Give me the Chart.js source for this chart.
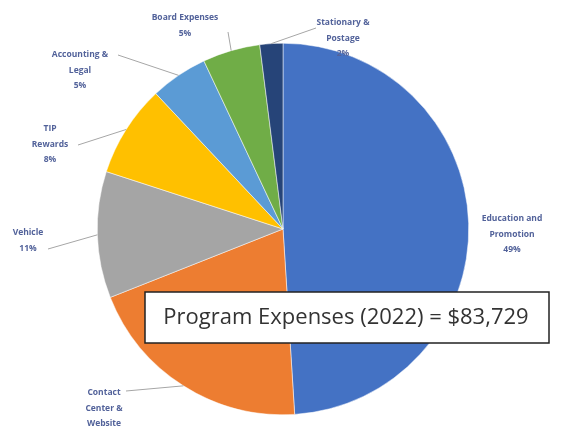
<!DOCTYPE html>
<html><head><meta charset="utf-8">
<script src="https://cdn.jsdelivr.net/npm/chart.js@4"></script>
<style>html,body{margin:0;padding:0;background:#fff;}#wrap{width:563px;height:434px;position:relative;}</style>
</head><body><div id="wrap"><canvas id="c" width="563" height="434"></canvas></div>
<script>
const categories = ["Education and Promotion", "Contact Center & Website", "Vehicle", "TIP Rewards", "Accounting & Legal", "Board Expenses", "Stationary & Postage"];
const labelLines = [["Education and","Promotion"],["Contact","Center &","Website"],["Vehicle"],["TIP","Rewards"],["Accounting &","Legal"],["Board Expenses"],["Stationary &","Postage"]];
const percentValues = [49, 20, 11, 8, 5, 5, 2];
const colors = ["#4472C4","#ED7D31","#A5A5A5","#FFC000","#5B9BD5","#70AD47","#264478"];
const titleText = "Program Expenses (2022) = $83,729";

// label layout: center x, first baseline y, leader end point (null = none)
const labelLayout = [
  {x:512, y:221, end:null},
  {x:104, y:395, end:[126,391]},
  {x:28,  y:235, end:[48,249]},
  {x:50,  y:131, end:[78,145]},
  {x:80,  y:57,  end:[118,55]},
  {x:185, y:20,  end:[228,32]},
  {x:343, y:25,  end:[316,28]}
];

const labelPlugin = {
  id:'outLabels',
  afterDatasetsDraw(chart){
    const ctx = chart.ctx;
    const meta = chart.getDatasetMeta(0);
    ctx.save();
    meta.data.forEach((arc,i)=>{
      const L = labelLayout[i];
      const lines = labelLines[i].concat([percentValues[i]+"%"]);
      if(L.end){
        const mid = (arc.startAngle+arc.endAngle)/2;
        const ax = arc.x + Math.cos(mid)*arc.outerRadius;
        const ay = arc.y + Math.sin(mid)*arc.outerRadius;
        ctx.strokeStyle = "#A6A6A6"; ctx.lineWidth = 1;
        ctx.beginPath(); ctx.moveTo(L.end[0],L.end[1]); ctx.lineTo(ax,ay); ctx.stroke();
      }
      ctx.fillStyle = "#52629A";
      ctx.font = "bold 8.5px 'Open Sans'";
      ctx.textAlign = "center"; ctx.textBaseline = "alphabetic";
      lines.forEach((t,k)=>ctx.fillText(t, L.x, L.y + k*15.5));
    });
    // title box
    const bx=145, by=292, bw=404, bh=51;
    ctx.fillStyle="#fff"; ctx.fillRect(bx,by,bw,bh);
    ctx.strokeStyle="#222"; ctx.lineWidth=1.5; ctx.strokeRect(bx,by,bw,bh);
    ctx.fillStyle="#333"; ctx.font="22px 'Open Sans'"; ctx.textAlign="center"; ctx.textBaseline="middle";
    ctx.fillText(titleText, 346, by+bh/2);
    ctx.restore();
  }
};

new Chart(document.getElementById('c'), {
  type:'pie',
  data:{ labels:categories, datasets:[{ data:percentValues, backgroundColor:colors, borderColor:"#fff", borderWidth:0.5 }]},
  options:{
    responsive:false, animation:false,
    layout:{ padding:{top:43, bottom:19, left:96, right:93} },
    plugins:{ legend:{display:false}, tooltip:{enabled:false} }
  },
  plugins:[labelPlugin]
});
</script></body></html>
